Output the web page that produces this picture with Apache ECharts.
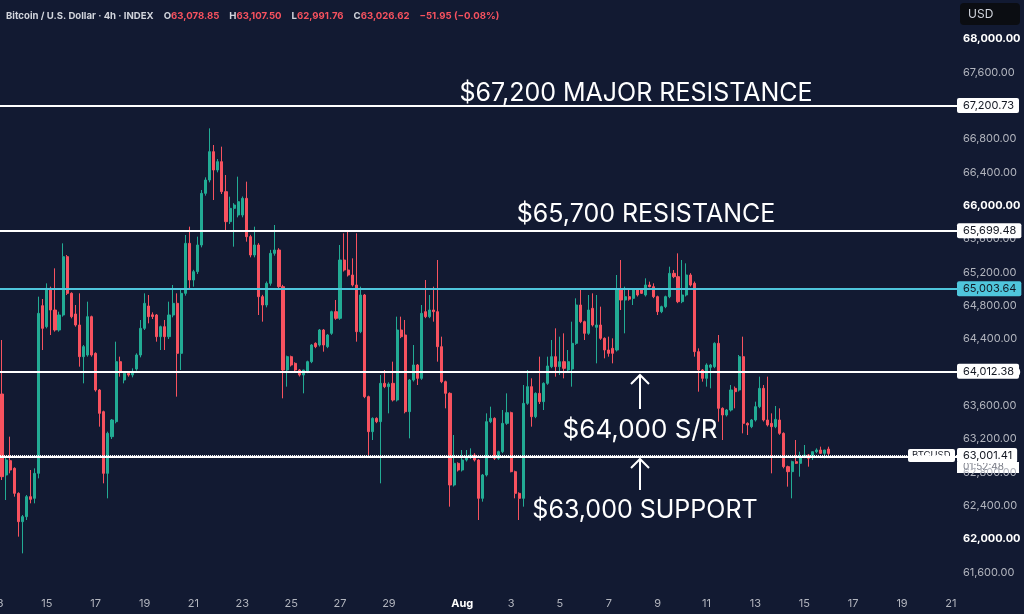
<!DOCTYPE html>
<html>
<head>
<meta charset="utf-8">
<title>BTCUSD 4h</title>
<script src="https://cdn.jsdelivr.net/npm/echarts@6/dist/echarts.min.js"></script>
<style>
    html, body { margin: 0; padding: 0; background: #121a32; }
    #chart { width: 1024px; height: 614px; }
</style>
</head>
<body>
<div id="chart"></div>
<script>
// 4h slots, slot 0 = Jul 13 00:00
var slotCount = 236;
var firstSlot = 1;

var tickDays = ['07-13', '07-15', '07-17', '07-19', '07-21', '07-23', '07-25', '07-27', '07-29',
    '08-01', '08-03', '08-05', '08-07', '08-09', '08-11', '08-13', '08-15', '08-17', '08-19', '08-21'];
var tickTexts = ['13', '15', '17', '19', '21', '23', '25', '27', '29',
    'Aug', '3', '5', '7', '9', '11', '13', '15', '17', '19', '21'];

var opens = [63740, 62768, 62940, 62848, 62548, 62208, 62268, 62508, 62488, 62788,
    64800, 64548, 65008, 64748, 64508, 64688, 65388, 64948, 64700, 64568,
    64188, 64208, 64668, 64228, 63788, 63528, 62788, 63228, 63408, 64128,
    63908, 63988, 63968, 64040, 64208, 64528, 64796, 64690, 64688, 64428,
    64548, 64428, 64688, 64828, 64228, 64948, 65548, 65108, 65208, 65528,
    66148, 66308, 66648, 66428, 66528, 66168, 65808, 65968, 65888, 65888,
    66088, 65628, 65408, 65528, 64908, 64808, 65068, 65428, 65468, 65028,
    64028, 64188, 64108, 64028, 63968, 64008, 64128, 64348, 64328, 64508,
    64308, 64468, 64728, 64648, 65348, 65228, 65168, 65048, 64488, 64928,
    63708, 63288, 63448, 63408, 63868, 63828, 63868, 63668, 64508, 64448,
    63528, 63908, 64088, 63928, 64728, 64668, 64748, 64728, 64308, 63888,
    63748, 62648, 62908, 62828, 62948, 62996, 63008, 62948, 62488, 62768,
    63408, 63448, 62968, 63048, 63388, 63516, 62808, 62548, 62488, 63628,
    63828, 63468, 63748, 63648, 63868, 64068, 64188, 64068, 64128, 64028,
    64040, 64348, 64808, 64608, 64468, 64768, 64540, 64568, 64408, 64268,
    64288, 64268, 64988, 64868, 64908, 64888, 64988, 64988, 64928, 65048,
    65028, 64908, 64728, 64788, 64908, 65188, 65148, 64848, 64928, 65168,
    65068, 64248, 64028, 63928, 64060, 64068, 64348, 63568, 63488, 63548,
    63808, 63788, 64188, 63388, 63348, 63428, 63588, 63808, 63428, 63388,
    63348, 63428, 63268, 62868, 62808, 62928, 62908, 62988, 63008, 62988,
    63048, 63068, 63028, 63079];

var highs = [64388, 62988, 63228, 62860, 62560, 62288, 62528, 62828, 62848, 64908,
    64880, 65068, 65028, 65248, 64728, 65548, 65408, 64960, 64808, 64948,
    64328, 64848, 64680, 64240, 63800, 63540, 63288, 63440, 64368, 64188,
    64000, 64008, 64048, 64228, 64628, 64948, 64928, 64720, 64700, 64560,
    64628, 64848, 65048, 64948, 64988, 65648, 65748, 65230, 65628, 66188,
    66340, 66928, 66728, 66560, 66708, 66368, 66108, 66030, 66348, 66110,
    66288, 65650, 65748, 65550, 64930, 65090, 65470, 65768, 65490, 65050,
    64200, 64200, 64120, 64040, 64030, 64140, 64340, 64360, 64520, 64520,
    64460, 64740, 64868, 65528, 65668, 65688, 65368, 65668, 65028, 64940,
    63720, 63460, 63460, 63968, 64028, 63880, 64128, 64668, 64668, 64628,
    63920, 64328, 64100, 64808, 65108, 64928, 65028, 65348, 64428, 63900,
    63760, 63248, 62920, 63068, 63068, 63088, 63030, 62960, 62780, 63508,
    63588, 63460, 63060, 63548, 63748, 63528, 62820, 62560, 63848, 64028,
    63928, 63760, 64188, 63880, 64188, 64388, 64528, 64428, 64468, 64268,
    64608, 64888, 64988, 64620, 64928, 64948, 64928, 64788, 64420, 64428,
    64408, 65168, 65348, 65028, 64988, 65008, 65000, 65000, 65128, 65088,
    65068, 64920, 64800, 64920, 65268, 65228, 65428, 65348, 65308, 65190,
    65090, 64288, 64040, 64108, 64100, 64360, 64448, 63580, 63560, 63848,
    63830, 64208, 64428, 63400, 63440, 63648, 63948, 63848, 63948, 63508,
    63596, 63568, 63280, 62880, 62940, 63188, 63048, 63128, 63020, 63048,
    63088, 63108, 63070, 63108];

var lows = [62708, 62468, 62788, 62508, 62028, 61828, 62228, 62428, 62428, 62728,
    64268, 64528, 64448, 64488, 64488, 64668, 64928, 64648, 64548, 64068,
    63868, 64188, 64188, 63768, 63348, 62668, 62488, 63200, 63388, 63948,
    63868, 63948, 63940, 64020, 64180, 64508, 64588, 64640, 64368, 64268,
    64268, 64400, 64660, 63708, 64028, 64920, 65008, 65028, 65180, 65500,
    66120, 66280, 66068, 66400, 66140, 65688, 65780, 65508, 65860, 65860,
    65568, 65380, 65380, 64688, 64608, 64780, 65040, 65400, 65000, 63688,
    63828, 64070, 64010, 63950, 63748, 63990, 64110, 64290, 64310, 64248,
    64290, 64450, 64630, 64630, 65210, 65150, 65030, 64368, 64470, 63690,
    63008, 63188, 63390, 62668, 63810, 63508, 63650, 63650, 64410, 63508,
    63208, 63890, 63848, 63910, 64650, 64650, 64608, 64128, 63870, 63568,
    62388, 62630, 62810, 62810, 62930, 62960, 62930, 62228, 62448, 62750,
    63390, 62948, 62950, 63030, 63370, 62800, 62488, 62228, 62388, 63610,
    63348, 63450, 63620, 63548, 63850, 64050, 63948, 63968, 63928, 64010,
    63828, 64330, 64590, 64388, 64450, 64550, 64108, 64390, 64168, 64188,
    64108, 64250, 64748, 64468, 64860, 64808, 64910, 64940, 64910, 65020,
    64890, 64688, 64710, 64770, 64890, 65130, 64830, 64830, 64910, 65030,
    64188, 63768, 63888, 63828, 63808, 64050, 63408, 63188, 63470, 63530,
    63568, 63770, 63268, 63248, 63330, 63410, 63570, 63410, 63350, 62788,
    63330, 63250, 62848, 62628, 62488, 62900, 62748, 62970, 62868, 62948,
    63030, 63020, 62968, 62992];

var closes = [62748, 62948, 62828, 62548, 62208, 62268, 62508, 62476, 62788, 64708,
    64528, 65008, 64748, 64508, 64688, 65388, 64948, 64668, 64568, 64188,
    64308, 64668, 64208, 63788, 63508, 62788, 63268, 63428, 64128, 64008,
    63988, 63968, 64008, 64208, 64528, 64828, 64668, 64670, 64428, 64548,
    64428, 64688, 64828, 64228, 64948, 65548, 65108, 65208, 65528, 66148,
    66308, 66648, 66428, 66528, 66168, 65808, 65968, 66008, 66048, 66088,
    65628, 65408, 65528, 64908, 64808, 65068, 65428, 65468, 65028, 64028,
    64188, 64088, 64028, 63968, 64028, 64128, 64328, 64308, 64508, 64328,
    64448, 64728, 64648, 65348, 65228, 65168, 65048, 64488, 64928, 63708,
    63288, 63448, 63408, 63868, 63828, 63860, 63668, 64508, 64428, 63528,
    63908, 64088, 63928, 64708, 64668, 64748, 64728, 64308, 63888, 63748,
    62648, 62908, 62828, 62948, 62996, 63008, 62948, 62488, 62768, 63408,
    63448, 62968, 63048, 63388, 63516, 62808, 62548, 62488, 63628, 63828,
    63468, 63748, 63648, 63868, 64076, 64188, 64068, 64128, 64048, 64128,
    64348, 64808, 64608, 64468, 64748, 64568, 64568, 64408, 64268, 64228,
    64228, 64988, 64868, 64908, 64878, 64988, 64928, 64948, 65048, 65028,
    64908, 64728, 64788, 64908, 65188, 65148, 64848, 64928, 65168, 65048,
    64248, 64028, 63928, 64088, 64088, 64348, 63568, 63488, 63548, 63788,
    63768, 64188, 63388, 63368, 63428, 63588, 63808, 63428, 63368, 63348,
    63436, 63268, 62868, 62808, 62928, 62908, 62988, 63008, 62968, 63048,
    63068, 63028, 63068, 63027];

// horizontal levels
var majorResistance = 67200.73;
var resistance = 65699.48;
var pivotLevel = 65003.64;
var srLevel = 64012.38;
var supportLevel = 62985;
var lastPrice = 63001.41;

var upColor = '#22ab94';
var downColor = '#f7525f';
var cyan = '#4fc6dc';
var fontFamily = 'Inter, Roboto, sans-serif';

function pad(n) {
    return n < 10 ? '0' + n : '' + n;
}

var slots = [];
var t0 = Date.UTC(2024, 6, 13);
for (var s = 0; s < slotCount; s++) {
    var d = new Date(t0 + s * 4 * 3600 * 1000);
    slots.push(pad(d.getUTCMonth() + 1) + '-' + pad(d.getUTCDate()) + ' ' + pad(d.getUTCHours()) + ':00');
}

var candles = [];
for (var i = 0; i < firstSlot; i++) {
    candles.push(['-', '-', '-', '-']);
}
for (var j = 0; j < opens.length; j++) {
    candles.push([opens[j], closes[j], lows[j], highs[j]]);
}

function fmt(v) {
    return v.toLocaleString('en-US', {minimumFractionDigits: 2, maximumFractionDigits: 2});
}

function tagLabel(bg) {
    return {
        show: true,
        position: 'end',
        distance: 0,
        formatter: function (p) {
            return fmt(p.value);
        },
        backgroundColor: bg,
        color: '#131722',
        fontSize: 11,
        fontFamily: fontFamily,
        lineHeight: 11,
        padding: [2, 5, 2, 6],
        borderRadius: 2
    };
}

var chart = echarts.init(document.getElementById('chart'), null, {renderer: 'canvas'});

chart.setOption({
    animation: false,
    backgroundColor: '#121a32',
    title: {
        left: 1,
        top: 2,
        text: '{t|Bitcoin / U.S. Dollar · 4h · INDEX}  {k|O}{v|63,078.85}  {k|H}{v|63,107.50}  {k|L}{v|62,991.76}  {k|C}{v|63,026.62}  {v|−51.95 (−0.08%)}',
        textStyle: {
            rich: {
                t: {color: '#d1d4dc', fontSize: 9.6, fontFamily: fontFamily},
                k: {color: '#d1d4dc', fontSize: 9.6, fontFamily: fontFamily},
                v: {color: downColor, fontSize: 9.6, fontFamily: fontFamily}
            }
        }
    },
    grid: {
        left: -4.072,
        right: 67,
        top: 5.667,
        bottom: 8.333,
        containLabel: false,
        outerBoundsMode: 'none'
    },
    xAxis: {
        type: 'category',
        data: slots,
        boundaryGap: true,
        offset: -14,
        axisLine: {show: false},
        axisTick: {show: false},
        splitLine: {show: false},
        axisLabel: {
            margin: 7,
            color: '#b2b5be',
            fontSize: 11,
            fontFamily: fontFamily,
            interval: function (index, value) {
                return value.slice(6) === '00:00' && tickDays.indexOf(value.slice(0, 5)) >= 0;
            },
            formatter: function (value) {
                var t = tickTexts[tickDays.indexOf(value.slice(0, 5))];
                return t === 'Aug' ? '{m|Aug}' : t;
            },
            rich: {
                m: {color: '#ffffff', fontWeight: 'bold', fontSize: 11, fontFamily: fontFamily}
            }
        }
    },
    yAxis: {
        type: 'value',
        position: 'right',
        min: 61200,
        max: 68400,
        interval: 400,
        scale: true,
        axisLine: {show: false},
        axisTick: {show: false},
        splitLine: {show: false},
        axisLabel: {
            showMinLabel: false,
            showMaxLabel: false,
            margin: 6,
            color: '#b2b5be',
            fontSize: 11,
            fontFamily: fontFamily,
            formatter: function (v) {
                return v % 2000 === 0 ? '{b|' + fmt(v) + '}' : fmt(v);
            },
            rich: {
                b: {color: '#ffffff', fontWeight: 'bold', fontSize: 11, fontFamily: fontFamily}
            }
        }
    },
    series: [{
        name: 'BTCUSD',
        type: 'candlestick',
        data: candles,
        barWidth: 2.6,
        itemStyle: {
            color: upColor,
            color0: downColor,
            borderColor: upColor,
            borderColor0: downColor,
            borderWidth: 1
        },
        markLine: {
            silent: true,
            symbol: ['none', 'none'],
            precision: 2,
            data: [
                {yAxis: majorResistance, lineStyle: {color: '#ffffff', width: 2, type: 'solid'}, label: tagLabel('#ffffff')},
                {yAxis: resistance, lineStyle: {color: '#ffffff', width: 2, type: 'solid'}, label: tagLabel('#ffffff')},
                {yAxis: pivotLevel, lineStyle: {color: cyan, width: 2, type: 'solid'}, label: tagLabel(cyan)},
                {yAxis: srLevel, lineStyle: {color: '#ffffff', width: 2, type: 'solid'}, label: tagLabel('#ffffff')},
                {yAxis: supportLevel, lineStyle: {color: '#ffffff', width: 2, type: 'solid'}, label: {show: false}},
                {yAxis: lastPrice, lineStyle: {color: '#ffffff', width: 1, type: 'dotted'}, label: tagLabel('#ffffff')}
            ]
        }
    }],
    graphic: [
        {
            type: 'group', left: 960, top: 3,
            children: [
                {type: 'rect', shape: {x: 0, y: 0, width: 60, height: 22, r: 4}, style: {fill: '#0b0d12'}},
                {type: 'text', x: 8, y: 11, style: {text: 'USD', fill: '#d1d4dc', font: '12px ' + fontFamily, textVerticalAlign: 'middle'}}
            ]
        },
        {
            type: 'group', left: 908, top: 449,
            children: [
                {type: 'rect', shape: {x: 0, y: 0, width: 47, height: 13, r: 2}, style: {fill: '#ffffff'}},
                {type: 'text', x: 4, y: 6.5, style: {text: 'BTCUSD', fill: '#131722', font: '9.5px ' + fontFamily, textVerticalAlign: 'middle'}}
            ]
        },
        {
            type: 'group', left: 957, top: 462, z: 100,
            children: [
                {type: 'rect', shape: {x: 0, y: 0, width: 62, height: 11}, style: {fill: '#ffffff'}},
                {type: 'text', x: 6, y: 5, style: {text: '01:52:48', fill: '#787b86', font: '10px ' + fontFamily, textVerticalAlign: 'middle'}}
            ]
        },
        {type: 'text', x: 636, y: 93, style: {text: '$67,200 MAJOR RESISTANCE', fill: '#ffffff', font: '25px ' + fontFamily, textAlign: 'center', textVerticalAlign: 'middle'}},
        {type: 'text', x: 646, y: 214, style: {text: '$65,700 RESISTANCE', fill: '#ffffff', font: '25px ' + fontFamily, textAlign: 'center', textVerticalAlign: 'middle'}},
        {type: 'text', x: 640, y: 430, style: {text: '$64,000 S/R', fill: '#ffffff', font: '26px ' + fontFamily, textAlign: 'center', textVerticalAlign: 'middle'}},
        {type: 'text', x: 645, y: 510, style: {text: '$63,000 SUPPORT', fill: '#ffffff', font: '25px ' + fontFamily, textAlign: 'center', textVerticalAlign: 'middle'}},
        {type: 'line', shape: {x1: 640, y1: 409, x2: 640, y2: 375}, style: {stroke: '#ffffff', lineWidth: 2}},
        {type: 'polyline', shape: {points: [[631, 384], [640, 375], [649, 384]]}, style: {stroke: '#ffffff', lineWidth: 2, fill: null}},
        {type: 'line', shape: {x1: 640, y1: 490, x2: 640, y2: 459}, style: {stroke: '#ffffff', lineWidth: 2}},
        {type: 'polyline', shape: {points: [[631, 468], [640, 459], [649, 468]]}, style: {stroke: '#ffffff', lineWidth: 2, fill: null}}
    ]
});
</script>
</body>
</html>
